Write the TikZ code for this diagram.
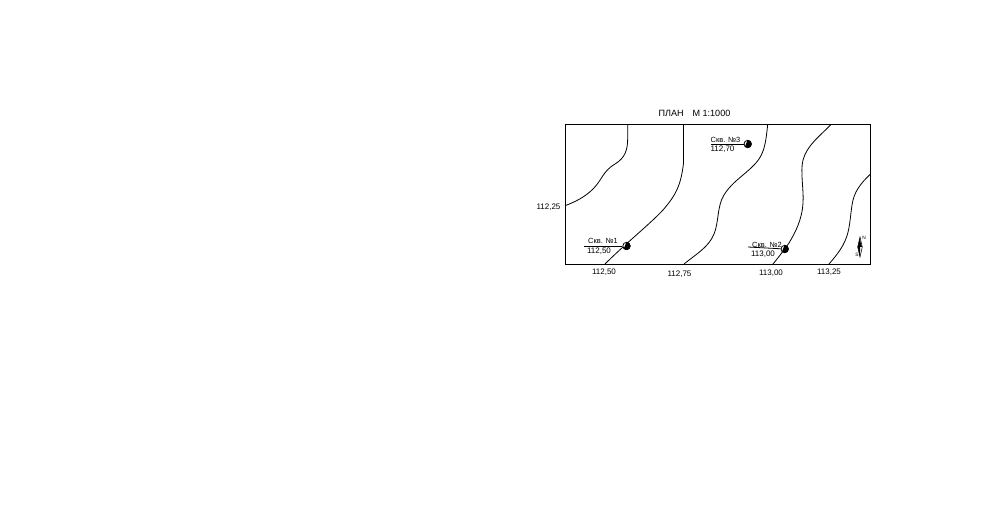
\documentclass[tikz,border=0pt]{standalone}
\usepackage{fontspec}
\setmainfont{Liberation Sans}
\usetikzlibrary{shapes.geometric}

\tikzset{every picture/.style={line width=0.75pt}}
\tikzset{
  level/.style={font=\fontsize{6}{7}\selectfont,inner sep=0pt},
  welltext/.style={font=\fontsize{5.6}{7}\selectfont,inner sep=0pt},
  contour/.style={line width=0.6pt},
  well/.style={circle,draw,line width=0.6pt,fill=white,minimum size=5.5pt,inner sep=0pt},
  compass/.style={font=\fontsize{3.6}{4}\selectfont,inner sep=0pt}
}

\begin{document}
\begin{tikzpicture}[x=0.75pt,y=0.75pt,yscale=-1,xscale=1]
\useasboundingbox (0,0) rectangle (982,509);

%Frame
\draw [line width=0.6pt] (565.5,124.5) rectangle (870.5,264);

%Contours
\draw [contour] (627.7,124.5) -- (627.7,138) .. controls (627.7,150) and (625,158) .. (615,164) .. controls (603,171) and (602,180) .. (593,189) .. controls (585,197) and (575,202) .. (565.5,205.5);
\draw [contour] (683.5,124.5) -- (683.5,163) .. controls (681,185) and (676,195) .. (663,210) .. controls (650,224) and (625,244) .. (605,264);
\draw [contour] (767.7,124.5) .. controls (766,140) and (765,150) .. (759,159) .. controls (750,172) and (733,180) .. (724,195) .. controls (717,206) and (719,222) .. (714,234) .. controls (709,247) and (695,255) .. (684,264);
\draw [contour] (831,124.5) .. controls (821,135) and (807,145) .. (803,160) .. controls (800,172) and (804,190) .. (803,203) .. controls (802,220) and (795,233) .. (789,243) .. controls (784,250) and (778,258) .. (773,264);
\draw [contour] (870.5,174) .. controls (860,184) and (854,192) .. (852,205) .. controls (850,218) and (850,230) .. (845,241) .. controls (841,250) and (835,257) .. (829,264);

%Wells
\node [well] (well1) at (626.5,246) {};
\node [well] (well2) at (784.7,249) {};
\node [well] (well3) at (747.7,144) {};
\coordinate (lead1) at (584,246);
\coordinate (lead2) at (748,247);
\coordinate (lead3) at (711,144);
\draw [line width=0.6pt] (lead1) -- (well1);
\draw [line width=0.6pt] (lead2) -- (well2);
\draw [line width=0.6pt] (lead3) -- (well3);
\foreach \w in {well1,well2,well3}
  \fill (\w.north) -- (\w.north east) -- (\w.east) -- (\w.south east) -- (\w.south) -- (\w.south west) -- cycle;

% Text Node
\node [level,font=\fontsize{6.8}{8}\selectfont] (title) at (694.5,113.5) {ПЛАН\hspace{0.7em} М 1:1000};
% Text Node
\node [welltext] (name1) at (603,241) {Скв. №1};
\node [level] (mark1) at (599,251.5) {112,50};
\node [welltext] (name2) at (767,244.5) {Скв. №2};
\node [level] (mark2) at (763,254.5) {113,00};
\node [welltext] (name3) at (725.5,139.5) {Скв. №3};
\node [level] (mark3) at (722.5,149.5) {112,70};
% Text Node
\node [level] (left1) at (548.5,207.5) {112,25};
\node [level] (bottom1) at (604,272.5) {112,50};
\node [level] (bottom2) at (679.5,274.5) {112,75};
\node [level] (bottom3) at (771,273.5) {113,00};
\node [level] (bottom4) at (829,272.5) {113,25};

%North arrow
\draw [line width=0.4pt,fill=white] (860,237) -- (862.3,247) -- (860,257) -- (857.7,247) -- cycle;
\fill (860,237) -- (860,257) -- (857.7,247) -- cycle;
\fill (860,240) -- (862,247) -- (860,247) -- cycle;
\node [compass] (north) at (864,238) {N};
\node [compass] (south) at (857,254.5) {S};

\end{tikzpicture}
\end{document}
